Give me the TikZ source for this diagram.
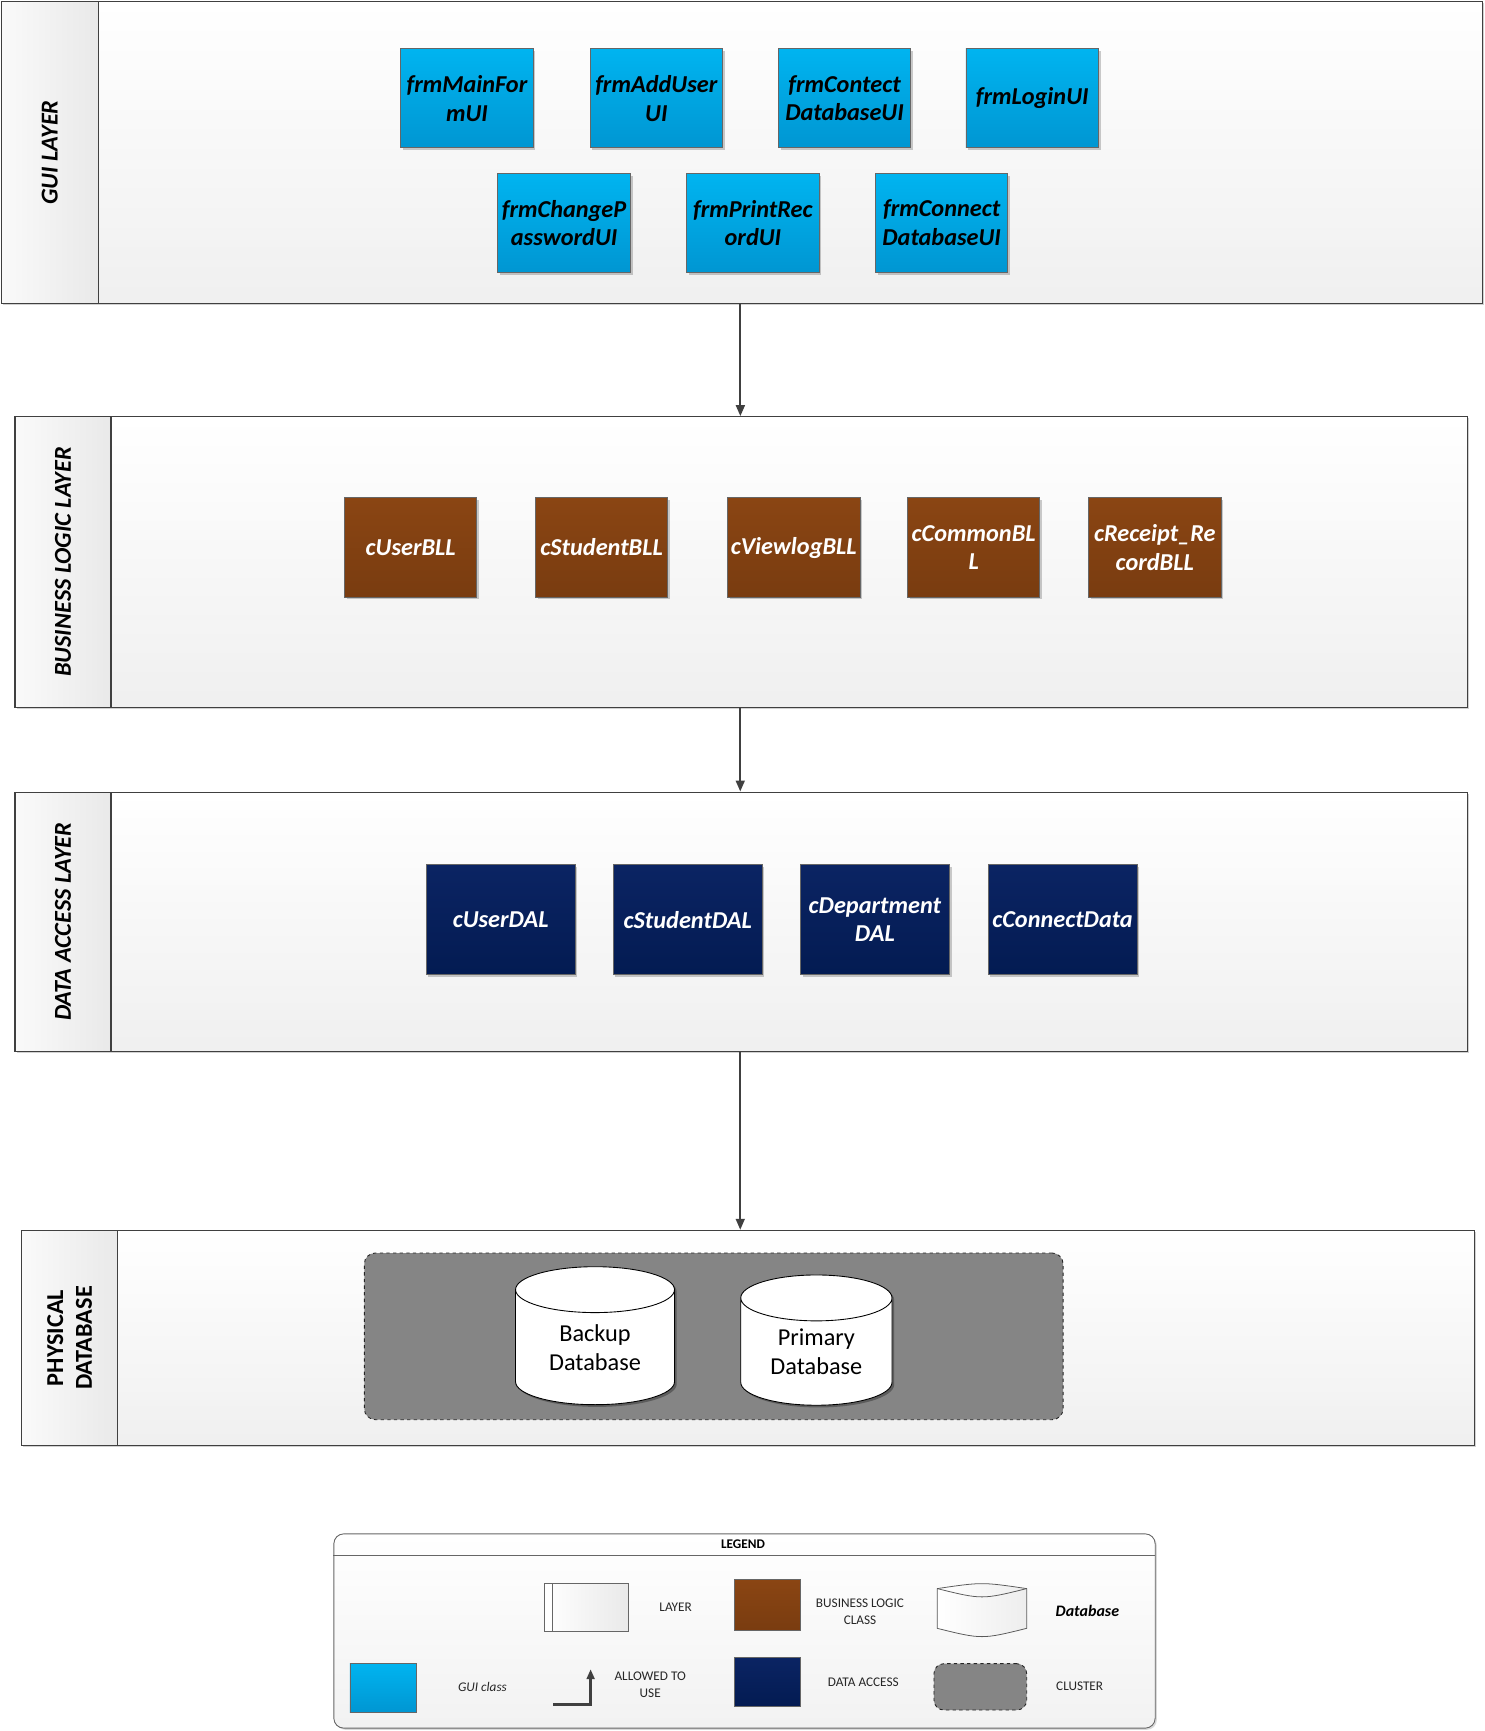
\documentclass[tikz,border=0pt]{standalone}
\usepackage{fontspec}
\setmainfont{Carlito}
\usetikzlibrary{arrows.meta,calc,shadows,shapes.geometric}
\definecolor{guiA}{HTML}{00B4F0}
\definecolor{guiB}{HTML}{0096D2}
\definecolor{bllA}{HTML}{8A4513}
\definecolor{bllB}{HTML}{793C10}
\definecolor{dalA}{HTML}{0B2463}
\definecolor{dalB}{HTML}{031B52}
\definecolor{edge}{HTML}{404040}
\definecolor{clus}{HTML}{858585}
\definecolor{bandA}{HTML}{FAFAFA}
\definecolor{bandB}{HTML}{E9E9E9}
\begin{document}
\begin{tikzpicture}[x=1pt,y=-1pt,
  layerbox/.style={draw=edge,line width=1.1pt,top color=white,bottom color=bandB!70,inner sep=0pt,anchor=north west,
    drop shadow={shadow xshift=1.5pt,shadow yshift=-1.5pt,fill=black,opacity=.18}},
  bandbox/.style={draw=edge,line width=1.1pt,left color=bandA,right color=bandB,inner sep=0pt,anchor=north west},
  layertitle/.style={font=\bfseries\itshape\fontsize{22}{26}\selectfont,text=black,rotate=90,align=center},
  clsbox/.style={draw=edge!80,line width=0.8pt,minimum width=120pt,minimum height=90pt,inner sep=0pt,align=center,
    font=\bfseries\itshape\fontsize{22}{26}\selectfont,
    drop shadow={shadow xshift=2pt,shadow yshift=-2pt,fill=black,opacity=.2}},
  guicls/.style={clsbox,top color=guiA,bottom color=guiB,text=black},
  bllcls/.style={clsbox,top color=bllA,bottom color=bllB,text=white},
  dalcls/.style={clsbox,top color=dalA,bottom color=dalB,text=white,minimum width=135pt,minimum height=100pt},
  dbcyl/.style={cylinder,shape border rotate=90,draw=black,line width=0.8pt,fill=white,inner sep=0pt,align=center,
    font=\fontsize{22}{26}\selectfont,
    drop shadow={shadow xshift=2pt,shadow yshift=-2pt,fill=black,opacity=.3}},
  clusterbox/.style={draw=black!85,dashed,line width=0.8pt,fill=clus,rounded corners=10pt,inner sep=0pt},
  arr/.style={draw=edge,line width=2pt,-{Triangle[length=10pt,width=8pt]}},
  legtext/.style={font=\fontsize{12}{15}\selectfont,text=black!85,align=center}
]
\useasboundingbox (0,0) rectangle (1345,1568);

% GUI layer
\node[layerbox,minimum width=1342pt,minimum height=274pt] (gui) at (0.6,0.6) {};
\node[bandbox,minimum width=88pt,minimum height=274pt] (guiband) at (gui.north west) {};
\node[layertitle] (guit) at (guiband.center) {GUI LAYER};
\node[guicls] (g1) at (423,89) {frmMainFor\\mUI};
\node[guicls] (g2) at (594.5,89) {frmAddUser\\UI};
\node[guicls] (g3) at (765,89) {frmContect\\DatabaseUI};
\node[guicls] (g4) at (935,89) {frmLoginUI};
\node[guicls] (g5) at (511,202) {frmChangeP\\asswordUI};
\node[guicls] (g6) at (682,202) {frmPrintRec\\ordUI};
\node[guicls] (g7) at (853,202) {frmConnect\\DatabaseUI};

% Business logic layer
\node[layerbox,minimum width=1316pt,minimum height=263pt] (bll) at (13,377) {};
\node[bandbox,minimum width=87pt,minimum height=263pt] (bllband) at (bll.north west) {};
\node[layertitle] (bllt) at (bllband.center) {BUSINESS LOGIC LAYER};
\node[bllcls] (b1) at (372,496) {cUserBLL};
\node[bllcls] (b2) at (545,496) {cStudentBLL};
\node[bllcls] (b3) at (719,496) {cViewlogBLL};
\node[bllcls] (b4) at (882,496) {cCommonBL\\L};
\node[bllcls] (b5) at (1046,496) {cReceipt\_Re\\cordBLL};

% Data access layer
\node[layerbox,minimum width=1316pt,minimum height=235pt] (dal) at (13,717) {};
\node[bandbox,minimum width=87pt,minimum height=235pt] (dalband) at (dal.north west) {};
\node[layertitle] (dalt) at (dalband.center) {DATA ACCESS LAYER};
\node[dalcls] (d1) at (453.5,833) {cUserDAL};
\node[dalcls] (d2) at (623,833) {cStudentDAL};
\node[dalcls] (d3) at (792.5,833) {cDepartment\\DAL};
\node[dalcls] (d4) at (962.5,833) {cConnectData};

% Physical database
\node[layerbox,minimum width=1316pt,minimum height=195pt] (db) at (19,1114) {};
\node[bandbox,minimum width=87pt,minimum height=195pt] (dbband) at (db.north west) {};
\node[layertitle,font=\bfseries\fontsize{22}{26}\selectfont] (dbt) at (dbband.center) {PHYSICAL\\DATABASE};
\node[clusterbox,minimum width=633pt,minimum height=151pt] (clu) at (646.5,1210.5) {};
\node[dbcyl,minimum width=144pt,minimum height=125pt,aspect=0.5] (bk) at (539,1220.5) {Backup\\Database};
\node[dbcyl,minimum width=137pt,minimum height=118pt,aspect=0.5] (pr) at (739.5,1224.5) {Primary\\Database};

% Arrows between layers
\draw[arr] ([xshift=-1.5pt]gui.south) -- ([xshift=-1.5pt]gui.south |- bll.north);
\draw[arr] ([xshift=-1pt]bll.south) -- ([xshift=-1pt]bll.south |- dal.north);
\draw[arr] ([xshift=-1pt]dal.south) -- ([xshift=-1pt]dal.south |- db.north);

% Legend
\node[draw=black!60,line width=0.8pt,rounded corners=9pt,top color=white,bottom color=bandB!60,
  minimum width=744pt,minimum height=176pt,inner sep=0pt,anchor=north west,
  drop shadow={shadow xshift=1.5pt,shadow yshift=-1.5pt,fill=black,opacity=.15}] (leg) at (302,1389) {};
\coordinate (lh1) at (302,1409);
\coordinate (lh2) at (1046,1409);
\draw[black!60,line width=0.8pt] (lh1) -- (lh2);
\node[font=\bfseries\fontsize{12}{14}\selectfont] (legt) at (673,1399) {LEGEND};

\node[draw=black!60,line width=0.8pt,left color=white,right color=bandB,minimum width=76pt,minimum height=43pt,inner sep=0pt,anchor=north west] (lgl) at (493,1434) {};
\node[draw=black!60,line width=0.8pt,fill=white,minimum width=7pt,minimum height=43pt,inner sep=0pt,anchor=north west] (lglb) at (493,1434) {};
\node[legtext] (lglt) at (612,1456) {LAYER};

\node[draw=edge!80,line width=0.6pt,top color=bllA,bottom color=bllB,minimum width=60pt,minimum height=46pt,inner sep=0pt] (lgb) at (695,1454) {};
\node[legtext] (lgbt) at (779,1460) {BUSINESS LOGIC\\CLASS};

% legend database icon
\coordinate (c1) at (849,1439);
\coordinate (c2) at (930,1439);
\coordinate (c3) at (930,1475);
\coordinate (c4) at (849,1475);
\draw[black!65,line width=0.7pt,left color=white,right color=bandB!80]
  (c1) .. controls (889.5,1433) .. (c2) -- (c3) .. controls (889.5,1485) .. (c4) -- cycle;
\draw[black!65,line width=0.7pt] (c1) .. controls (889.5,1449) .. (c2);
\node[font=\bfseries\itshape\fontsize{14.5}{17}\selectfont] (lgct) at (985,1459) {Database};

\node[draw=edge!80,line width=0.6pt,top color=guiA,bottom color=guiB,minimum width=60pt,minimum height=44pt,inner sep=0pt] (lgg) at (347,1529) {};
\node[legtext,font=\itshape\fontsize{12}{15}\selectfont] (lggt) at (437,1528) {GUI class};

\coordinate (la1) at (501,1544);
\coordinate (la2) at (535,1512);
\draw[draw=edge,line width=2.8pt,-{Triangle[length=9pt,width=7pt]}] (la1) -| (la2);
\node[legtext] (lat) at (589,1526) {ALLOWED TO\\USE};

\node[draw=edge!80,line width=0.6pt,top color=dalA,bottom color=dalB,minimum width=60pt,minimum height=45pt,inner sep=0pt] (lgd) at (695,1523.5) {};
\node[legtext] (lgdt) at (782,1524) {DATA ACCESS};

\node[clusterbox,rounded corners=9pt,minimum width=84pt,minimum height=42pt] (lgk) at (888,1528) {};
\node[legtext] (lgkt) at (978,1527) {CLUSTER};
\end{tikzpicture}
\end{document}
